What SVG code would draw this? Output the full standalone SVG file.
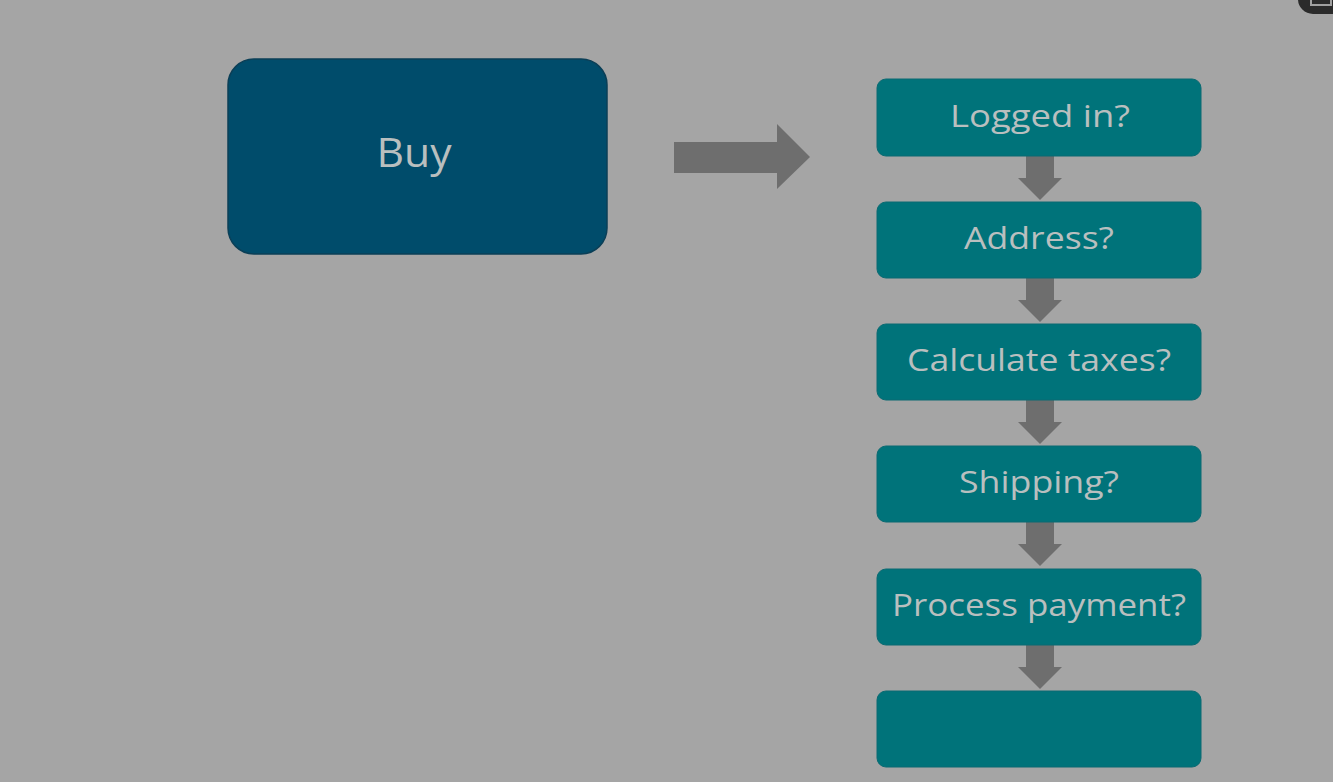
<svg xmlns="http://www.w3.org/2000/svg" width="1333" height="782" viewBox="0 0 1333 782">
<defs>
<style>
.step{fill:#00737a;stroke:#0a6a72;stroke-width:1}
.lbl{font-family:"Open Sans","Noto Sans","Liberation Sans",sans-serif;font-size:31px;fill:#b9bfbf;text-anchor:middle}
.arr{fill:#6e6e6e}
</style>
</defs>
<rect width="1333" height="782" fill="#a5a5a5"/>
<g id="corner">
<rect x="1298" y="-30" width="70" height="44" rx="15" fill="#2b2b2b"/>
<rect x="1311" y="-4" width="20" height="9" fill="none" stroke="#a0a0a0" stroke-width="2"/>
</g>
<g id="buy">
<rect x="228" y="59" width="379" height="195" rx="26" fill="#004c6b" stroke="#0b3f57" stroke-width="1.5"/>
<text x="414" y="167" class="lbl" style="font-size:40px" textLength="75" lengthAdjust="spacingAndGlyphs">Buy</text>
</g>
<g id="connectors">
<polygon class="arr" points="674,142 777,142 777,124 810,157 777,189 777,173 674,173"/>
<polygon class="arr" points="1026,156 1054,156 1054,178 1062,178 1040,200 1018,178 1026,178"/>
<polygon class="arr" points="1026,278 1054,278 1054,300 1062,300 1040,322 1018,300 1026,300"/>
<polygon class="arr" points="1026,400 1054,400 1054,422 1062,422 1040,444 1018,422 1026,422"/>
<polygon class="arr" points="1026,522 1054,522 1054,544 1062,544 1040,566 1018,544 1026,544"/>
<polygon class="arr" points="1026,645 1054,645 1054,667 1062,667 1040,689 1018,667 1026,667"/>
</g>
<g id="logged-in">
<rect class="step" x="877" y="79" width="324" height="77" rx="9"/>
<text class="lbl" x="1040" y="127" textLength="180" lengthAdjust="spacingAndGlyphs">Logged in?</text>
</g>
<g id="address">
<rect class="step" x="877" y="202" width="324" height="76" rx="9"/>
<text class="lbl" x="1039" y="249" textLength="150" lengthAdjust="spacingAndGlyphs">Address?</text>
</g>
<g id="taxes">
<rect class="step" x="877" y="324" width="324" height="76" rx="9"/>
<text class="lbl" x="1039" y="371" textLength="264" lengthAdjust="spacingAndGlyphs">Calculate taxes?</text>
</g>
<g id="shipping">
<rect class="step" x="877" y="446" width="324" height="76" rx="9"/>
<text class="lbl" x="1039" y="493" textLength="160" lengthAdjust="spacingAndGlyphs">Shipping?</text>
</g>
<g id="payment">
<rect class="step" x="877" y="569" width="324" height="76" rx="9"/>
<text class="lbl" x="1039" y="616" textLength="294" lengthAdjust="spacingAndGlyphs">Process payment?</text>
</g>
<g id="last">
<rect class="step" x="877" y="691" width="324" height="76" rx="9"/>
</g>
</svg>
